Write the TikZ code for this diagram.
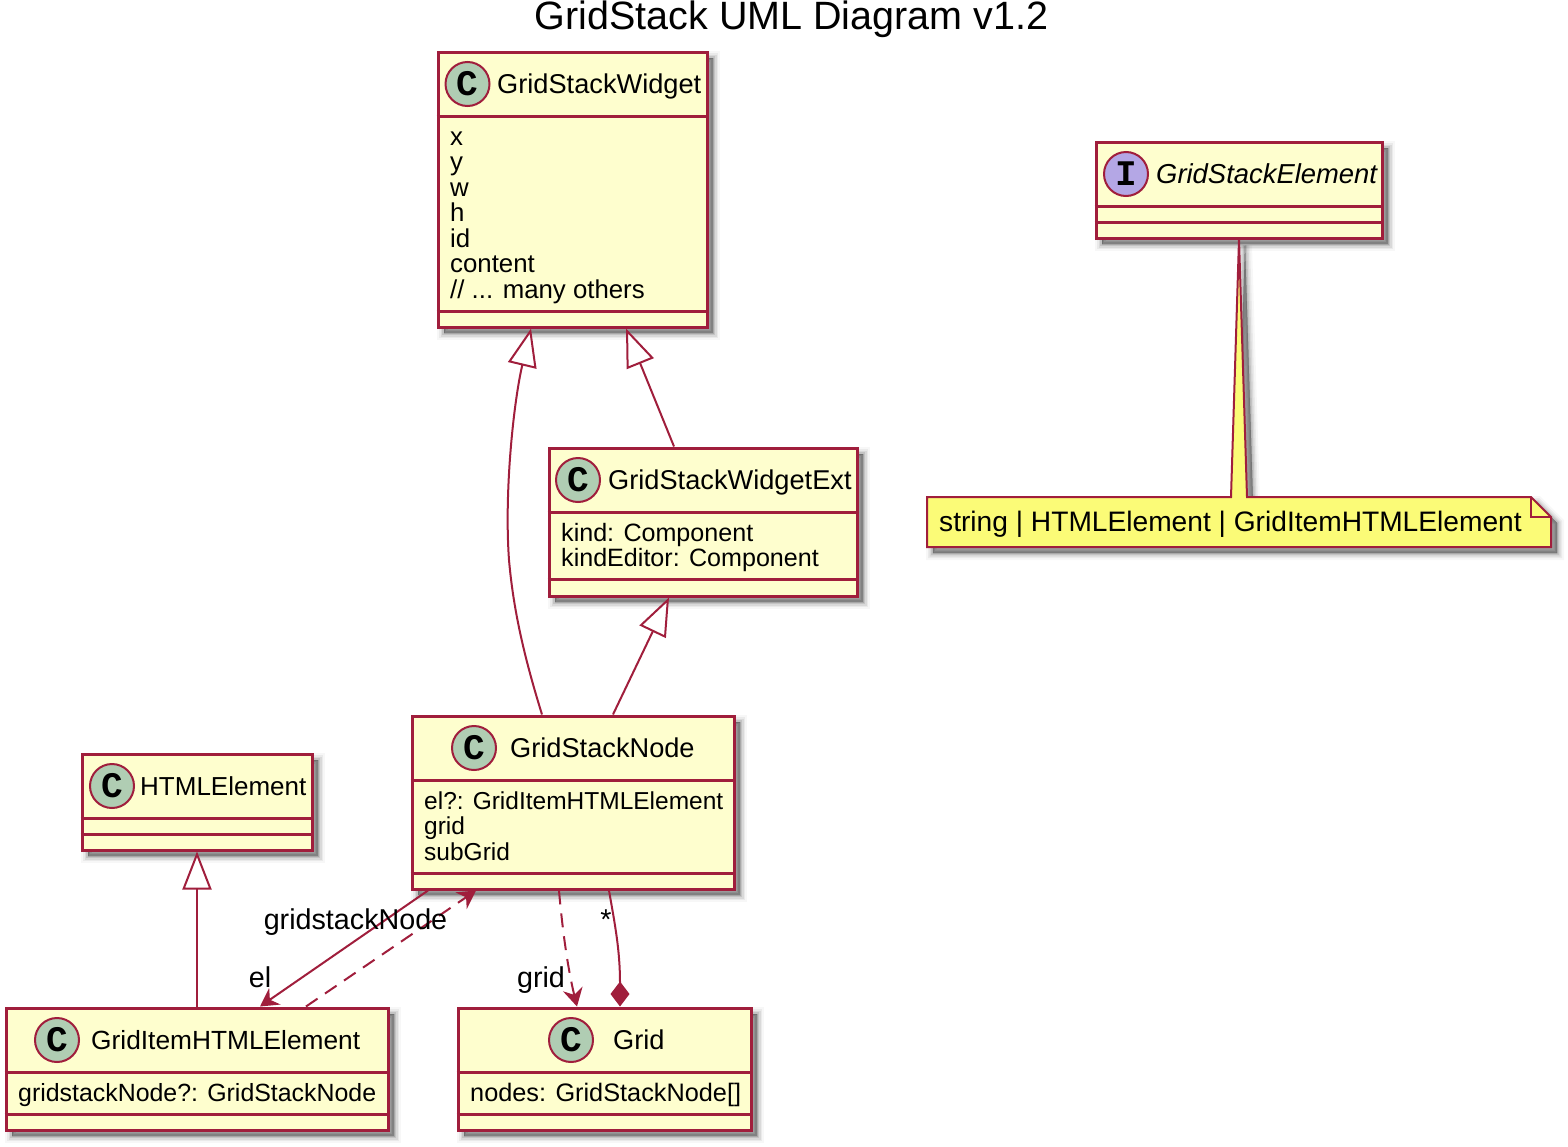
\documentclass[tikz,border=0pt]{standalone}
\usepackage{fontspec}
\setmainfont{Liberation Sans}
\newfontfamily\spotfont{Liberation Mono}
\usepackage{xcolor}
\usetikzlibrary{arrows.meta,shadows}
\definecolor{umlframe}{HTML}{A01E3C}
\definecolor{umlfill}{HTML}{FEFECE}
\definecolor{notefill}{HTML}{FBFB77}
\definecolor{spotgreen}{HTML}{B0CDB3}
\definecolor{spotviolet}{HTML}{B4A7E5}
\newcommand{\firstline}{\rule{0pt}{20pt}}

\begin{document}
\begin{tikzpicture}[
    x=1pt, y=-1pt,
    softshadow/.style={
        general shadow={shadow xshift=6pt, shadow yshift=-6pt, draw=black, fill=black, line width=14pt, opacity=.03},
        general shadow={shadow xshift=6pt, shadow yshift=-6pt, draw=black, fill=black, line width=10pt, opacity=.05},
        general shadow={shadow xshift=6pt, shadow yshift=-6pt, draw=black, fill=black, line width=7pt, opacity=.07},
        general shadow={shadow xshift=6pt, shadow yshift=-6pt, draw=black, fill=black, line width=4pt, opacity=.10},
        general shadow={shadow xshift=6pt, shadow yshift=-6pt, draw=black, fill=black, line width=1pt, opacity=.14}},
    classbox/.style={rectangle, draw=umlframe, fill=umlfill, line width=3pt, inner sep=0pt, softshadow},
    sepline/.style={draw=umlframe, line width=3pt},
    spot/.style={circle, draw=umlframe, line width=2pt, minimum size=44pt, inner sep=0pt, font=\spotfont\bfseries\fontsize{36}{36}\selectfont},
    classname/.style={anchor=base west, inner sep=0pt, font=\fontsize{#1}{30}\selectfont},
    classname/.default=27.2,
    memberlist/.style={anchor=north west, inner sep=0pt, align=left, font=\fontsize{#1}{25.5}\selectfont},
    linklabel/.style={anchor=base, inner sep=0pt, font=\fontsize{28.7}{30}\selectfont},
    link/.style={draw=umlframe, line width=2pt, line join=miter},
    inherit/.style={link, -{Triangle[open, fill=white, length=38pt, width=29pt]}},
    assoc/.style={link, -{Stealth[length=18pt, width=20pt, inset=6pt]}},
    depend/.style={assoc, dash pattern=on 14pt off 9pt},
    compose/.style={link, -{Diamond[length=25pt, width=19pt]}},
    notebody/.style={draw=umlframe, fill=notefill, line width=2pt, line join=miter, softshadow}
]
    \useasboundingbox (0,0) rectangle (1568,1146);

    \node[anchor=base, inner sep=0pt, font=\fontsize{39.5}{42}\selectfont] (title) at (791.5,29.5) {GridStack UML Diagram v1.2};

    % GridStackWidget
    \node[classbox, minimum width=269pt, minimum height=275pt] (gsw) at (572.5,189.5) {};
    \draw[sepline] (gsw.west |- 0,116) -- (gsw.east |- 0,116);
    \draw[sepline] (gsw.west |- 0,311) -- (gsw.east |- 0,311);
    \node[spot, fill=spotgreen] (gswspot) at (467.5,84) {C};
    \node[classname] (gswname) at (497,93) {GridStackWidget};
    \node[memberlist=25.8] (gswmembers) at (450,125) {\firstline x\\y\\w\\h\\id\\content\\// ... many others};

    % GridStackElement i notatka
    \node[classbox, minimum width=286pt, minimum height=96pt] (elem) at (1239,190) {};
    \draw[sepline] (elem.west |- 0,206) -- (elem.east |- 0,206);
    \draw[sepline] (elem.west |- 0,222) -- (elem.east |- 0,222);
    \node[spot, fill=spotviolet] (elemspot) at (1126,174) {I};
    \node[classname, font=\itshape\fontsize{27.4}{30}\selectfont] (elemname) at (1156,183) {GridStackElement};

    \draw[notebody] (927,497) -- (1231,497) -- (elem.south) -- (1247,497) -- (1531,497)
        -- (1551,517) -- (1551,547) -- (927,547) -- cycle;
    \draw[link] (1531,497) -- (1531,517) -- (1551,517);
    \node[classname=28.15] (note) at (939,531) {string | HTMLElement | GridItemHTMLElement};

    % GridStackWidgetExt
    \node[classbox, minimum width=308pt, minimum height=148pt] (ext) at (703,522) {};
    \draw[sepline] (ext.west |- 0,512) -- (ext.east |- 0,512);
    \draw[sepline] (ext.west |- 0,579) -- (ext.east |- 0,579);
    \node[spot, fill=spotgreen] (extspot) at (578,480) {C};
    \node[classname] (extname) at (608,489) {GridStackWidgetExt};
    \node[memberlist=25.1] (extmembers) at (561,521) {\firstline kind: Component\\kindEditor: Component};

    % GridStackNode
    \node[classbox, minimum width=322pt, minimum height=173pt] (gsn) at (573,802.5) {};
    \draw[sepline] (gsn.west |- 0,780) -- (gsn.east |- 0,780);
    \draw[sepline] (gsn.west |- 0,873) -- (gsn.east |- 0,873);
    \node[spot, fill=spotgreen] (gsnspot) at (474,748) {C};
    \node[classname] (gsnname) at (510,757) {GridStackNode};
    \node[memberlist=24.5] (gsnmembers) at (424,789) {\firstline el?: GridItemHTMLElement\\grid\\subGrid};

    % HTMLElement
    \node[classbox, minimum width=230pt, minimum height=96pt] (html) at (197,802) {};
    \draw[sepline] (html.west |- 0,818) -- (html.east |- 0,818);
    \draw[sepline] (html.west |- 0,834) -- (html.east |- 0,834);
    \node[spot, fill=spotgreen] (htmlspot) at (112,786) {C};
    \node[classname=26] (htmlname) at (140,795) {HTMLElement};

    % GridItemHTMLElement
    \node[classbox, minimum width=382pt, minimum height=122pt] (gie) at (197,1069) {};
    \draw[sepline] (gie.west |- 0,1072) -- (gie.east |- 0,1072);
    \draw[sepline] (gie.west |- 0,1114) -- (gie.east |- 0,1114);
    \node[spot, fill=spotgreen] (giespot) at (57,1040) {C};
    \node[classname=26.3] (giename) at (91,1049) {GridItemHTMLElement};
    \node[memberlist=24.9] (giemembers) at (18,1081) {\firstline gridstackNode?: GridStackNode};

    % Grid
    \node[classbox, minimum width=293pt, minimum height=122pt] (griddata) at (604.5,1069) {};
    \draw[sepline] (griddata.west |- 0,1072) -- (griddata.east |- 0,1072);
    \draw[sepline] (griddata.west |- 0,1114) -- (griddata.east |- 0,1114);
    \node[spot, fill=spotgreen] (gridspot) at (571,1040) {C};
    \node[classname] (gridname) at (613,1049) {Grid};
    \node[memberlist=25.3] (gridmembers) at (470,1081) {\firstline nodes: GridStackNode[]};

    % Strzalki dziedziczenia
    \draw[inherit] ([xshift=-31pt]gsn.north) .. controls (522,650) and (513,605) .. (509,560)
        .. controls (504,490) and (514,400) .. ([xshift=-41.5pt]gsw.south);
    \draw[inherit] ([xshift=-29pt]ext.north) -- ([xshift=53.5pt]gsw.south);
    \draw[inherit] ([xshift=40pt]gsn.north) -- ([xshift=-34pt]ext.south);
    \draw[inherit] (gie.north) -- (html.south);

    % Pozostale polaczenia
    \draw[assoc] ([xshift=-145pt]gsn.south) -- ([xshift=63pt]gie.north);
    \draw[depend] ([xshift=109pt]gie.north) -- ([xshift=-97pt]gsn.south);
    \draw[depend] ([xshift=-14pt]gsn.south) .. controls (562,925) and (567,965) .. ([xshift=-27.5pt]griddata.north);
    \draw[compose] ([xshift=36pt]gsn.south) .. controls (615,925) and (620,950) .. ([xshift=15.5pt]griddata.north);

    % Etykiety
    \node[linklabel] (gridstacklabel) at (355.5,929) {gridstackNode};
    \node[linklabel] (ellabel) at (260,987) {el};
    \node[linklabel] (gridlabel) at (541,987) {grid};
    \node[linklabel] (starlabel) at (606,929) {*};
\end{tikzpicture}
\end{document}
